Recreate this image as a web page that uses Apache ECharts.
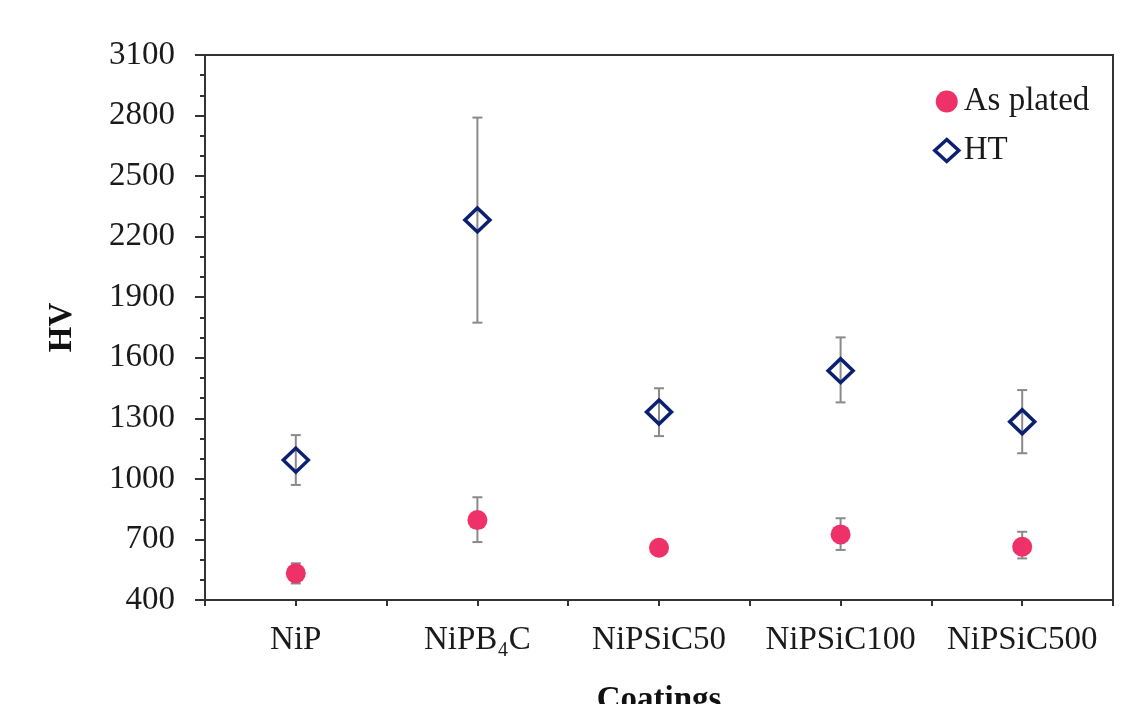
<!DOCTYPE html>
<html><head><meta charset="utf-8">
<script src="https://cdn.jsdelivr.net/npm/echarts@6/dist/echarts.min.js"></script>
<style>html,body{margin:0;padding:0;background:#fff}#c{width:1142px;height:704px}</style>
</head><body><div id="c"></div>
<script>
const categories = ['NiP', 'NiPB\u2084C', 'NiPSiC50', 'NiPSiC100', 'NiPSiC500'];
const asPlated = [532, 796, 659, 725, 664];
const asPlatedLow = [482, 687, 639, 648, 606];
const asPlatedHigh = [582, 909, 679, 805, 738];
const ht = [1093, 2283, 1331, 1536, 1283];
const htLow = [970, 1774, 1212, 1379, 1127];
const htHigh = [1217, 2790, 1449, 1701, 1440];
const yTicks = [400, 700, 1000, 1300, 1600, 1900, 2200, 2500, 2800, 3100];

const FONT = "'Liberation Serif','Times New Roman',serif";
const AX = '#333';
const TXT = '#1a1a1a';
const FS = 33;

function errData(low, high) {
  return categories.map((c, i) => [i, low[i], high[i]]);
}
function errRender(params, api) {
  const x = api.value(0);
  const lo = api.coord([x, api.value(1)]);
  const hi = api.coord([x, api.value(2)]);
  const w = 5;
  const st = { stroke: '#8a8a8a', lineWidth: 2 };
  return { type: 'group', children: [
    { type: 'line', shape: { x1: lo[0], y1: lo[1], x2: hi[0], y2: hi[1] }, style: st },
    { type: 'line', shape: { x1: hi[0] - w, y1: hi[1], x2: hi[0] + w, y2: hi[1] }, style: st },
    { type: 'line', shape: { x1: lo[0] - w, y1: lo[1], x2: lo[0] + w, y2: lo[1] }, style: st }
  ]};
}

const chart = echarts.init(document.getElementById('c'), null, { renderer: 'canvas' });
chart.setOption({
  animation: false,
  backgroundColor: '#fff',
  grid: { left: 205, right: 29, top: 55, bottom: 104, outerBoundsMode: 'none', containLabel: false,
    show: true, borderColor: AX, borderWidth: 2, backgroundColor: 'transparent' },
  legend: {
    orient: 'vertical', left: 928, top: 80, itemGap: 16, itemWidth: 24, itemHeight: 22,
    textStyle: { fontFamily: FONT, fontSize: FS, color: TXT },
    data: [
      { name: 'As plated' },
      { name: 'HT', itemStyle: { borderWidth: 3.5, borderColor: '#0b2070', color: 'rgba(255,255,255,0)' } }
    ]
  },
  xAxis: [{
    type: 'category', data: categories, position: 'bottom',
    name: 'Coatings', nameLocation: 'middle', nameGap: 84,
    nameTextStyle: { fontFamily: FONT, fontSize: FS, fontWeight: 'bold', color: '#111' },
    axisLine: { lineStyle: { color: AX, width: 2 } },
    axisTick: { show: true, length: 6, lineStyle: { color: AX, width: 2 } },
    axisLabel: { fontFamily: FONT, fontSize: FS, color: TXT, margin: 24, interval: 0 },
    splitLine: { show: false }
  }, {
    type: 'category', data: categories, position: 'bottom', offset: 0,
    axisLine: { show: false },
    axisTick: { show: true, alignWithLabel: true, length: 6, lineStyle: { color: AX, width: 2 } },
    axisLabel: { show: false },
    splitLine: { show: false }
  }],
  yAxis: {
    type: 'value', min: yTicks[0], max: yTicks[yTicks.length - 1], interval: yTicks[1] - yTicks[0],
    name: 'HV', nameLocation: 'middle', nameGap: 126,
    nameTextStyle: { fontFamily: FONT, fontSize: FS, fontWeight: 'bold', color: '#111' },
    axisLine: { show: true, lineStyle: { color: AX, width: 2 } },
    axisTick: { show: true, length: 10, lineStyle: { color: AX, width: 2 } },
    minorTick: { show: true, splitNumber: 3, length: 5, lineStyle: { color: AX, width: 2 } },
    axisLabel: { fontFamily: FONT, fontSize: FS, color: TXT, margin: 30, formatter: v => String(v) },
    splitLine: { show: false }
  },
  series: [
    { type: 'custom', name: 'errAP', renderItem: errRender, data: errData(asPlatedLow, asPlatedHigh), z: 1, silent: true },
    { type: 'custom', name: 'errHT', renderItem: errRender, data: errData(htLow, htHigh), z: 1, silent: true },
    { type: 'scatter', name: 'As plated', data: asPlated, symbol: 'circle', symbolSize: 20,
      itemStyle: { color: '#EF3169', opacity: 1 }, z: 3 },
    { type: 'scatter', name: 'HT', data: ht, symbol: 'diamond', symbolSize: [25, 24],
      itemStyle: { color: 'rgba(255,255,255,0)', borderColor: '#0b2070', borderWidth: 3.5, opacity: 1 }, z: 3 }
  ]
});
</script></body></html>
